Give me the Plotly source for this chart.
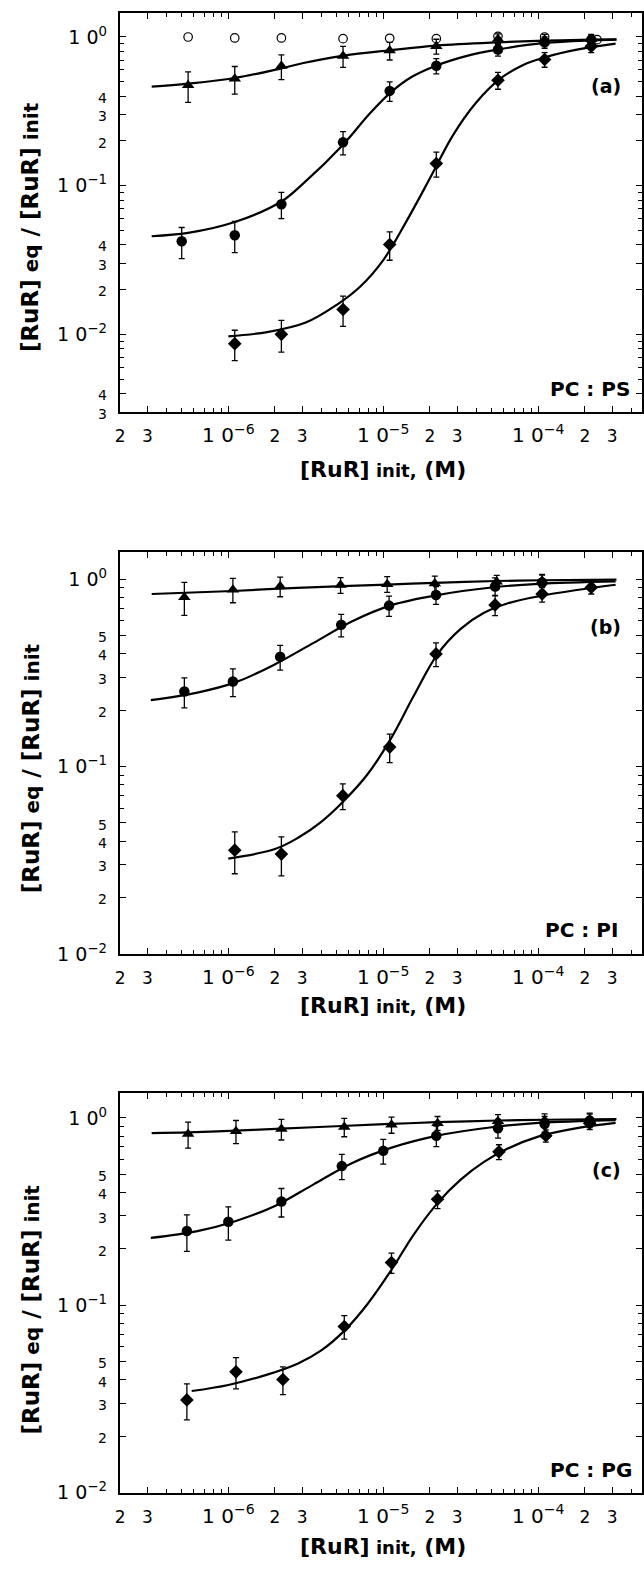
import plotly.graph_objects as go

W, H = 644, 1573
FONT = "DejaVu Sans, Verdana, sans-serif"

# ---------------- Panel (a) PC:PS ----------------
xa_tri = [5.5e-7, 1.1e-6, 2.2e-6, 5.5e-6, 1.1e-5, 2.2e-5, 5.5e-5, 1.1e-4, 2.2e-4]
ya_tri = [0.473, 0.523, 0.637, 0.745, 0.81, 0.866, 0.97, 0.96, 0.97]
ea_tri = [0.11, 0.11, 0.12, 0.12, 0.11, 0.10, 0.08, 0.08, 0.07]

xa_cir = [5.0e-7, 1.1e-6, 2.2e-6, 5.5e-6, 1.1e-5, 2.2e-5, 5.5e-5, 1.1e-4, 2.2e-4]
ya_cir = [0.0423, 0.0464, 0.075, 0.196, 0.434, 0.64, 0.823, 0.92, 0.96]
ea_cir = [0.010, 0.011, 0.015, 0.035, 0.065, 0.076, 0.08, 0.08, 0.07]

xa_dia = [1.1e-6, 2.2e-6, 5.5e-6, 1.1e-5, 2.2e-5, 5.5e-5, 1.1e-4, 2.2e-4]
ya_dia = [0.00865, 0.01, 0.0147, 0.0402, 0.141, 0.512, 0.706, 0.865]
ea_dia = [0.002, 0.0024, 0.0034, 0.0087, 0.027, 0.067, 0.08, 0.08]

xa_open = [5.5e-7, 1.1e-6, 2.2e-6, 5.5e-6, 1.1e-5, 2.2e-5, 5.5e-5, 1.1e-4, 2.4e-4]
ya_open = [1.0, 0.985, 0.985, 0.974, 0.98, 0.974, 1.01, 1.0, 0.96]

# fitted curves
xa_fit_tri = [3.2e-7, 5.5e-7, 1.1e-6, 2.2e-6, 3.05e-6, 5.56e-6, 1.1e-5, 2.21e-5, 5.46e-5, 1.1e-4, 2.2e-4, 3.2e-4]
ya_fit_tri = [0.464, 0.486, 0.530, 0.615, 0.668, 0.75, 0.814, 0.875, 0.92, 0.945, 0.96, 0.965]
xa_fit_cir = [3.2e-7, 5.5e-7, 1.1e-6, 2.2e-6, 3.05e-6, 5.56e-6, 8.1e-6, 1.1e-5, 1.53e-5, 2.21e-5,
              3.52e-5, 5.46e-5, 1.1e-4, 2.2e-4, 3.2e-4]
ya_fit_cir = [0.0457, 0.0481, 0.0569, 0.0782, 0.1036, 0.191, 0.302, 0.418, 0.54, 0.644,
              0.75, 0.823, 0.912, 0.95, 0.96]
xa_fit_dia = [1.0e-6, 1.78e-6, 3.16e-6, 5.01e-6, 7.08e-6, 1.0e-5, 1.41e-5, 2.0e-5, 2.82e-5, 3.98e-5,
              5.62e-5, 7.94e-5, 1.12e-4, 1.78e-4, 3.16e-4]
ya_fit_dia = [0.0097, 0.01035, 0.0120, 0.0158, 0.0209, 0.0316, 0.0575, 0.112, 0.219, 0.363,
              0.519, 0.646, 0.733, 0.822, 0.902]

# ---------------- Panel (b) PC:PI ----------------
xb_tri = [5.2e-7, 1.07e-6, 2.16e-6, 5.3e-6, 1.06e-5, 2.15e-5, 5.4e-5, 1.06e-4]
yb_tri = [0.80, 0.878, 0.915, 0.929, 0.94, 0.947, 0.968, 0.98]
eb_tri = [0.16, 0.13, 0.11, 0.09, 0.09, 0.09, 0.08, 0.08]

xb_cir = [5.2e-7, 1.07e-6, 2.16e-6, 5.35e-6, 1.09e-5, 2.19e-5, 5.27e-5, 1.06e-4]
yb_cir = [0.2515, 0.284, 0.385, 0.57, 0.722, 0.823, 0.914, 0.96]
eb_cir = [0.046, 0.048, 0.058, 0.078, 0.09, 0.09, 0.10, 0.09]

xb_dia = [1.1e-6, 2.2e-6, 5.48e-6, 1.1e-5, 2.19e-5, 5.27e-5, 1.06e-4, 2.2e-4]
yb_dia = [0.0358, 0.0341, 0.0699, 0.127, 0.399, 0.728, 0.833, 0.903]
eb_dia = [0.009, 0.008, 0.011, 0.022, 0.058, 0.09, 0.08, 0.07]

xb_fit_tri = [3.2e-7, 1.07e-6, 2.16e-6, 4.1e-6, 1.06e-5, 2.15e-5, 5.4e-5, 1.06e-4, 3.2e-4]
yb_fit_tri = [0.833, 0.864, 0.89, 0.91, 0.935, 0.955, 0.977, 0.986, 0.993]
xb_fit_cir = [3.16e-7, 6.31e-7, 1.12e-6, 2.0e-6, 3.55e-6, 6.31e-6, 1.12e-5, 2.24e-5, 5.01e-5, 1.0e-4, 3.16e-4]
yb_fit_cir = [0.226, 0.248, 0.282, 0.351, 0.457, 0.596, 0.724, 0.822, 0.902, 0.944, 0.973]
xb_fit_dia = [1.0e-6, 2.0e-6, 2.82e-6, 3.98e-6, 5.62e-6, 7.94e-6, 1.12e-5, 1.58e-5, 2.24e-5, 3.16e-5,
              4.47e-5, 6.31e-5, 1.0e-4, 1.78e-4, 3.16e-4]
yb_fit_dia = [0.0323, 0.0363, 0.0417, 0.0507, 0.0661, 0.0912, 0.141, 0.240, 0.398, 0.543,
              0.661, 0.741, 0.809, 0.875, 0.933]

# ---------------- Panel (c) PC:PG ----------------
xc_tri = [5.5e-7, 1.12e-6, 2.2e-6, 5.6e-6, 1.13e-5, 2.24e-5, 5.5e-5, 1.1e-4, 2.15e-4]
yc_tri = [0.82, 0.848, 0.872, 0.893, 0.918, 0.937, 0.96, 0.97, 0.98]
ec_tri = [0.13, 0.12, 0.11, 0.10, 0.09, 0.08, 0.08, 0.08, 0.08]

xc_cir = [5.4e-7, 1.0e-6, 2.2e-6, 5.4e-6, 1.0e-5, 2.2e-5, 5.5e-5, 1.1e-4, 2.15e-4]
yc_cir = [0.249, 0.279, 0.358, 0.553, 0.667, 0.803, 0.88, 0.928, 0.967]
ec_cir = [0.055, 0.056, 0.062, 0.085, 0.10, 0.10, 0.10, 0.09, 0.08]

xc_dia = [5.4e-7, 1.12e-6, 2.25e-6, 5.6e-6, 1.13e-5, 2.24e-5, 5.58e-5, 1.12e-4, 2.15e-4]
yc_dia = [0.0313, 0.0442, 0.0402, 0.0771, 0.169, 0.368, 0.659, 0.803, 0.936]
ec_dia = [0.0068, 0.0084, 0.0068, 0.011, 0.021, 0.04, 0.06, 0.06, 0.07]

xc_fit_tri = [3.2e-7, 5.5e-7, 1.12e-6, 2.2e-6, 5.4e-6, 1.12e-5, 2.2e-5, 5.5e-5, 1.1e-4, 3.2e-4]
yc_fit_tri = [0.83, 0.837, 0.855, 0.876, 0.905, 0.928, 0.948, 0.968, 0.977, 0.985]
xc_fit_cir = [3.16e-7, 6.31e-7, 1.12e-6, 2.0e-6, 3.55e-6, 6.31e-6, 1.12e-5, 2.24e-5, 5.01e-5, 1.0e-4, 3.16e-4]
yc_fit_cir = [0.229, 0.249, 0.282, 0.339, 0.442, 0.575, 0.692, 0.804, 0.891, 0.940, 0.973]
xc_fit_dia = [5.8e-7, 1.0e-6, 1.78e-6, 2.82e-6, 3.98e-6, 5.62e-6, 7.94e-6, 1.12e-5, 1.58e-5, 2.24e-5,
              3.16e-5, 4.47e-5, 6.31e-5, 1.0e-4, 1.78e-4, 3.16e-4]
yc_fit_dia = [0.0349, 0.0376, 0.0427, 0.049, 0.0575, 0.0733, 0.102, 0.153, 0.240, 0.351,
              0.468, 0.582, 0.684, 0.794, 0.881, 0.94]

# ---------------- ticks / labels ----------------
x_tickvals = [2e-7, 3e-7, 1e-6, 2e-6, 3e-6, 1e-5, 2e-5, 3e-5, 1e-4, 2e-4, 3e-4]
x_ticktext = ["2", "3", "1 0<sup>\u22126</sup>", "2", "3", "1 0<sup>\u22125</sup>", "2", "3",
              "1 0<sup>\u22124</sup>", "2", "3"]
x_minor = [4e-7, 5e-7, 6e-7, 7e-7, 8e-7, 9e-7, 4e-6, 5e-6, 6e-6, 7e-6, 8e-6, 9e-6,
           4e-5, 5e-5, 6e-5, 7e-5, 8e-5, 9e-5, 4e-4]

ya_tickvals = [3e-3, 4e-3, 1e-2, 2e-2, 3e-2, 4e-2, 1e-1, 2e-1, 3e-1, 4e-1, 1.0]
ya_ticktext = ["3", "4", "1 0<sup>\u22122</sup>", "2", "3", "4", "1 0<sup>\u22121</sup>", "2", "3", "4",
               "1 0<sup>0</sup>"]
ya_minor = [5e-3, 6e-3, 7e-3, 8e-3, 9e-3, 5e-2, 6e-2, 7e-2, 8e-2, 9e-2, 0.5, 0.6, 0.7, 0.8, 0.9]

ybc_tickvals = [1e-2, 2e-2, 3e-2, 4e-2, 5e-2, 1e-1, 2e-1, 3e-1, 4e-1, 5e-1, 1.0]
ybc_ticktext = ["1 0<sup>\u22122</sup>", "2", "3", "4", "5", "1 0<sup>\u22121</sup>", "2", "3", "4", "5",
                "1 0<sup>0</sup>"]
ybc_minor = [6e-2, 7e-2, 8e-2, 9e-2, 0.6, 0.7, 0.8, 0.9, 6e-3, 7e-3]

panel_tags = ["(a)", "(b)", "(c)"]
panel_names = ["PC : PS", "PC : PI", "PC : PG"]
x_title = "[RuR]<span style='font-size:18px'> init,</span> (M)"
y_title = "[RuR]<span style='font-size:20px'> eq</span> / [RuR]<span style='font-size:20px'> init</span>"


def small(txt, size):
    return txt if "sup" in txt else "<span style='font-size:%dpx'>%s</span>" % (size, txt)


# ---------------- geometry (pixels) ----------------
PX_L, PX_R = 116, 644
panels_px = [(12.7, 415.0), (556.0, 960.7), (1101.2, 1503.3)]
y_ranges = [[-2.523, 0.164], [-2.0, 0.144], [-2.0, 0.13]]
x_range = [-6.701, -3.33]

fig = go.Figure()

datasets = [
    (xa_fit_tri, ya_fit_tri, xa_fit_cir, ya_fit_cir, xa_fit_dia, ya_fit_dia,
     xa_tri, ya_tri, ea_tri, xa_cir, ya_cir, ea_cir, xa_dia, ya_dia, ea_dia),
    (xb_fit_tri, yb_fit_tri, xb_fit_cir, yb_fit_cir, xb_fit_dia, yb_fit_dia,
     xb_tri, yb_tri, eb_tri, xb_cir, yb_cir, eb_cir, xb_dia, yb_dia, eb_dia),
    (xc_fit_tri, yc_fit_tri, xc_fit_cir, yc_fit_cir, xc_fit_dia, yc_fit_dia,
     xc_tri, yc_tri, ec_tri, xc_cir, yc_cir, ec_cir, xc_dia, yc_dia, ec_dia),
]

for i, d in enumerate(datasets):
    xr = "x" if i == 0 else "x%d" % (i + 1)
    yr = "y" if i == 0 else "y%d" % (i + 1)
    (fxt, fyt, fxc, fyc, fxd, fyd, xt, yt, et, xc, yc, ec, xd, yd, ed) = d
    for fx, fy in [(fxt, fyt), (fxc, fyc), (fxd, fyd)]:
        fig.add_trace(go.Scatter(x=fx, y=fy, mode="lines", xaxis=xr, yaxis=yr,
                                 line=dict(color="black", width=2.2, shape="spline", smoothing=1.0),
                                 showlegend=False, hoverinfo="skip"))
    if i == 0:
        fig.add_trace(go.Scatter(x=xa_open, y=ya_open, mode="markers", xaxis=xr, yaxis=yr,
                                 marker=dict(symbol="circle-open", size=8.5, color="black",
                                             line=dict(width=1.2, color="black")),
                                 showlegend=False))
    for xs, ys, es, sym, sz in [(xt, yt, et, "triangle-up", 11), (xc, yc, ec, "circle", 10.5),
                                (xd, yd, ed, "diamond", 10.5)]:
        fig.add_trace(go.Scatter(x=xs, y=ys, mode="markers", xaxis=xr, yaxis=yr,
                                 marker=dict(symbol=sym, size=sz, color="black"),
                                 error_y=dict(type="data", array=es, visible=True,
                                              color="black", thickness=1.3, width=3),
                                 showlegend=False))

layout = dict(width=W, height=H, autosize=False, paper_bgcolor="white", plot_bgcolor="white",
              margin=dict(l=0, r=0, t=0, b=0, pad=0), showlegend=False,
              font=dict(family=FONT, color="black"))

annotations = []
for i, (top, bot) in enumerate(panels_px):
    sfx = "" if i == 0 else str(i + 1)
    dom_y = [1 - bot / H, 1 - top / H]
    layout["xaxis" + sfx] = dict(
        type="log", range=x_range, domain=[PX_L / W, PX_R / W], anchor="y" + sfx,
        showline=True, linecolor="black", linewidth=2, mirror="ticks",
        ticks="inside", ticklen=6, tickwidth=1.3, tickcolor="black",
        tickmode="array", tickvals=x_tickvals, ticktext=[small(t, 17) for t in x_ticktext],
        tickfont=dict(family=FONT, size=20, color="black"),
        ticklabelstandoff=4,
        minor=dict(tickmode="array", tickvals=x_minor, ticks="inside", ticklen=4,
                   tickwidth=1.1, tickcolor="black", showgrid=False),
        showgrid=False, zeroline=False, fixedrange=True)
    if i == 0:
        tv, tt, mn = ya_tickvals, ya_ticktext, ya_minor
    else:
        tv, tt, mn = ybc_tickvals, ybc_ticktext, ybc_minor
    layout["yaxis" + sfx] = dict(
        type="log", range=y_ranges[i], domain=dom_y, anchor="x" + sfx,
        showline=True, linecolor="black", linewidth=2, mirror="ticks",
        ticks="inside", ticklen=6, tickwidth=1.3, tickcolor="black",
        tickmode="array", tickvals=tv, ticktext=[small(t, 14) for t in tt],
        tickfont=dict(family=FONT, size=19, color="black"),
        ticklabelstandoff=7,
        minor=dict(tickmode="array", tickvals=mn, ticks="inside", ticklen=4,
                   tickwidth=1.1, tickcolor="black", showgrid=False),
        showgrid=False, zeroline=False, fixedrange=True)

    tag_y = [87, 631.7, 1177.8][i]
    name_y = [392, 936.7, 1480.5][i]
    name_x = [634, 622, 636][i]
    annotations.append(dict(text="<b>%s</b>" % panel_tags[i], xref="paper", yref="paper",
                            x=625 / W, y=1 - tag_y / H, xanchor="right", yanchor="middle",
                            showarrow=False, font=dict(family=FONT, size=19, color="black")))
    annotations.append(dict(text="<b>%s</b>" % panel_names[i], xref="paper", yref="paper",
                            x=name_x / W, y=1 - name_y / H, xanchor="right", yanchor="middle",
                            showarrow=False, font=dict(family=FONT, size=20, color="black")))
    xt_y = [473, 1013, 1557][i]
    annotations.append(dict(text="<b>%s</b>" % x_title, xref="paper", yref="paper",
                            x=382 / W, y=1 - xt_y / H, xanchor="center", yanchor="middle",
                            showarrow=False, font=dict(family=FONT, size=22, color="black")))
    yt_y = [229, 774, 1319][i]
    annotations.append(dict(text="<b>%s</b>" % y_title, xref="paper", yref="paper",
                            x=26 / W, y=1 - yt_y / H, xanchor="center", yanchor="middle",
                            textangle=-90, showarrow=False,
                            font=dict(family=FONT, size=23, color="black")))

layout["annotations"] = annotations
fig.update_layout(**layout)

fig.write_html("out.html", config={"displayModeBar": False},
               post_script="document.body.style.margin='0';document.body.style.padding='0';"
                           "document.documentElement.style.margin='0';"
                           "document.documentElement.style.overflow='hidden';")
